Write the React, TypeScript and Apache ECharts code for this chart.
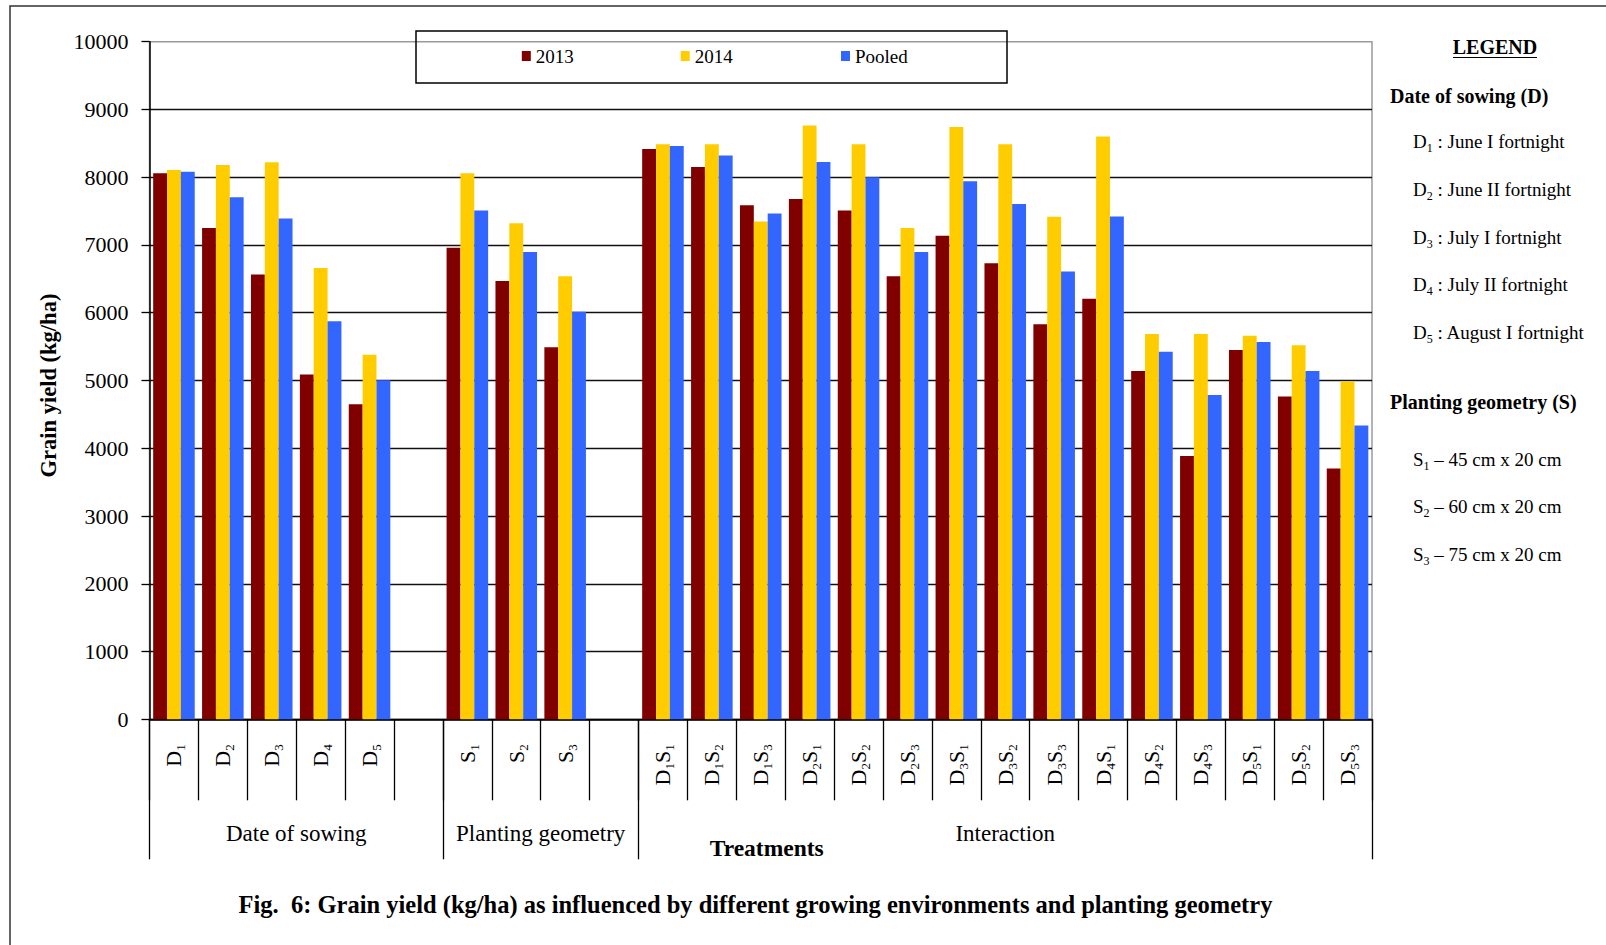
import { useEffect, useRef } from 'react';
import * as echarts from 'echarts';

// Treatment categories on the x axis (gap entries leave an empty slot between groups)
const categories = [
  'D1', 'D2', 'D3', 'D4', 'D5', 'gap1',
  'S1', 'S2', 'S3', 'gap2',
  'D1S1', 'D1S2', 'D1S3', 'D2S1', 'D2S2', 'D2S3', 'D3S1', 'D3S2', 'D3S3',
  'D4S1', 'D4S2', 'D4S3', 'D5S1', 'D5S2', 'D5S3',
];

// Grain yield (kg/ha)
const yield2013 = [
  8060, 7250, 6565, 5090, 4650, null,
  6960, 6470, 5490, null,
  8415, 8150, 7585, 7680, 7510, 6540, 7135, 6730, 5830,
  6205, 5140, 3885, 5450, 4765, 3700,
];
const yield2014 = [
  8105, 8180, 8220, 6660, 5380, null,
  8060, 7320, 6540, null,
  8485, 8485, 7345, 8765, 8485, 7250, 8740, 8485, 7415,
  8600, 5685, 5685, 5660, 5520, 4985,
];
const yieldPooled = [
  8080, 7705, 7390, 5875, 5005, null,
  7510, 6895, 6015, null,
  8460, 8320, 7465, 8225, 8000, 6895, 7940, 7605, 6610,
  7420, 5425, 4785, 5570, 5140, 4335,
];

const seriesNames = ['2013', '2014', 'Pooled'];
const seriesColors = ['#800000', '#FFCC00', '#3366FF'];

// Group bands along the x axis (edges in category units)
const groupNames = ['Date of sowing', 'Planting geometry', 'Interaction'];
const groupEdges = [0, 6, 10, 25];

const yMax = 10000;
const yStep = 1000;

// Side legend entries
const sowingHeading = 'Date of sowing (D)';
const sowingKeys = ['1', '2', '3', '4', '5'];
const sowingDates = ['June I fortnight', 'June II fortnight', 'July I fortnight', 'July II fortnight', 'August I fortnight'];
const geometryHeading = 'Planting geometry (S)';
const geometryKeys = ['1', '2', '3'];
const geometrySpacing = ['45 cm x 20 cm', '60 cm x 20 cm', '75 cm x 20 cm'];

const figureCaption = 'Fig.  6: Grain yield (kg/ha) as influenced by different growing environments and planting geometry';

const SERIF = '"Liberation Serif", "Times New Roman", serif';

const subRich = {
  m: { fontSize: 22, fontFamily: SERIF, color: '#000', lineHeight: 27 },
  s: { fontSize: 13, fontFamily: SERIF, color: '#000', verticalAlign: 'bottom' as const },
};

const legendRich = {
  m: { fontSize: 19, fontFamily: SERIF, color: '#000', lineHeight: 25 },
  s: { fontSize: 12, fontFamily: SERIF, color: '#000', verticalAlign: 'bottom' as const },
};

function catLabel(v: string): string {
  if (v.startsWith('gap')) return '';
  return v.replace(/([DS])(\d)/g, '{m|$1}{s|$2}');
}

function textEl(x: number, y: number, text: string, extra: Record<string, unknown> = {}) {
  return {
    type: 'text',
    x,
    y,
    style: {
      text,
      fill: '#000',
      fontFamily: SERIF,
      fontSize: 19,
      align: 'left',
      verticalAlign: 'middle',
      textAlign: 'left',
      textVerticalAlign: 'middle',
      ...extra,
    },
  };
}

// Left edge of each series-legend entry
const legendItemLeft = [521.8, 680.7, 841];

export default function App() {
  const ref = useRef<HTMLDivElement>(null);

  useEffect(() => {
    if (!ref.current) return;
    const chart = echarts.init(ref.current, undefined, { renderer: 'svg' });

    const groupMids = groupEdges.slice(0, -1).map((e, i) => (e + groupEdges[i + 1]) / 2);
    const lineGap = 47.7;

    const sideLegend: any[] = [
      textEl(1495, 47, 'LEGEND', { fontWeight: 'bold', fontSize: 20, align: 'center', textAlign: 'center' }),
      { type: 'line', shape: { x1: 1453, y1: 57.5, x2: 1537, y2: 57.5 }, style: { stroke: '#000', lineWidth: 1.2 } },
      textEl(1390, 95.5, sowingHeading, { fontWeight: 'bold', fontSize: 20 }),
      ...sowingKeys.map((k, i) =>
        textEl(1413, 141.6 + i * lineGap, `{m|D}{s|${k}}{m| : ${sowingDates[i]}}`, { rich: legendRich })
      ),
      textEl(1390, 402, geometryHeading, { fontWeight: 'bold', fontSize: 20 }),
      ...geometryKeys.map((k, i) =>
        textEl(1413, 459.2 + i * lineGap, `{m|S}{s|${k}}{m| – ${geometrySpacing[i]}}`, { rich: legendRich })
      ),
    ];

    const legends = seriesNames.map((name, i) => ({
      left: legendItemLeft[i],
      top: 46,
      padding: 0,
      itemWidth: 9,
      itemHeight: 10,
      icon: 'rect',
      textStyle: { fontSize: 19, fontFamily: SERIF, color: '#000', lineHeight: 20 },
      data: [name],
    }));

    const option: any = {
      animation: false,
      backgroundColor: '#fff',
      grid: {
        left: 149.5,
        top: 41.7,
        right: 234,
        bottom: 225.7,
        show: true,
        borderColor: '#9a9a9a',
        borderWidth: 1.5,
        backgroundColor: 'transparent',
      },
      legend: legends,
      xAxis: [
        {
          type: 'category',
          data: categories,
          axisLine: { show: true, lineStyle: { color: '#000', width: 1.5 } },
          axisTick: { show: true, interval: 0, length: 81, lineStyle: { color: '#000', width: 1.3 } },
          axisLabel: {
            interval: 0,
            rotate: 90,
            margin: 25,
            formatter: catLabel,
            rich: subRich,
          },
          splitLine: { show: false },
          name: 'Treatments',
          nameLocation: 'middle',
          nameGap: 117,
          nameTextStyle: {
            fontFamily: SERIF,
            fontWeight: 'bold',
            fontSize: 23.5,
            color: '#000',
            padding: [0, 0, 0, 12],
          },
        },
        {
          type: 'value',
          min: 0,
          max: groupEdges[groupEdges.length - 1],
          position: 'bottom',
          axisLine: { show: false },
          splitLine: { show: false },
          axisTick: {
            show: true,
            customValues: groupEdges,
            length: 140,
            lineStyle: { color: '#000', width: 1.3 },
          },
          axisLabel: {
            show: true,
            customValues: groupMids,
            margin: 103,
            fontFamily: SERIF,
            fontSize: 23,
            color: '#000',
            formatter: (v: number) => {
              const i = groupMids.indexOf(v);
              return i >= 0 ? groupNames[i] : '';
            },
          },
        },
      ],
      yAxis: {
        type: 'value',
        min: 0,
        max: yMax,
        interval: yStep,
        axisLine: { show: true, lineStyle: { color: '#000', width: 1.5 } },
        axisTick: { show: true, length: 8, lineStyle: { color: '#000', width: 1.3 } },
        axisLabel: {
          margin: 21,
          fontFamily: SERIF,
          fontSize: 22,
          color: '#000',
          formatter: (v: number) => String(v),
        },
        splitLine: { show: true, showMaxLine: false, lineStyle: { color: '#111', width: 1.3 } },
        name: 'Grain yield (kg/ha)',
        nameLocation: 'middle',
        nameGap: 90,
        nameTextStyle: {
          fontFamily: SERIF,
          fontWeight: 'bold',
          fontSize: 22.5,
          color: '#000',
          padding: [0, 10, 0, 0],
        },
      },
      series: [yield2013, yield2014, yieldPooled].map((d, i) => ({
        type: 'bar',
        name: seriesNames[i],
        data: d,
        xAxisIndex: 0,
        barGap: '0%',
        barCategoryGap: '15%',
        itemStyle: { color: seriesColors[i] },
      })),
      graphic: [
        {
          type: 'rect',
          shape: { x: 10, y: 6, width: 1700, height: 1100 },
          style: { fill: 'none', stroke: '#333', lineWidth: 1.5 },
          silent: true,
        },
        {
          type: 'rect',
          shape: { x: 416, y: 31, width: 591, height: 52 },
          style: { fill: 'none', stroke: '#000', lineWidth: 1.5 },
          silent: true,
        },
        ...sideLegend,
        textEl(755.5, 904, figureCaption, { fontWeight: 'bold', fontSize: 24.5, align: 'center', textAlign: 'center' }),
      ],
    };

    chart.setOption(option);
    return () => chart.dispose();
  }, []);

  return (
    <div
      ref={ref}
      style={{ position: 'absolute', left: 0, top: 0, width: 1606, height: 945, background: '#fff' }}
    />
  );
}
